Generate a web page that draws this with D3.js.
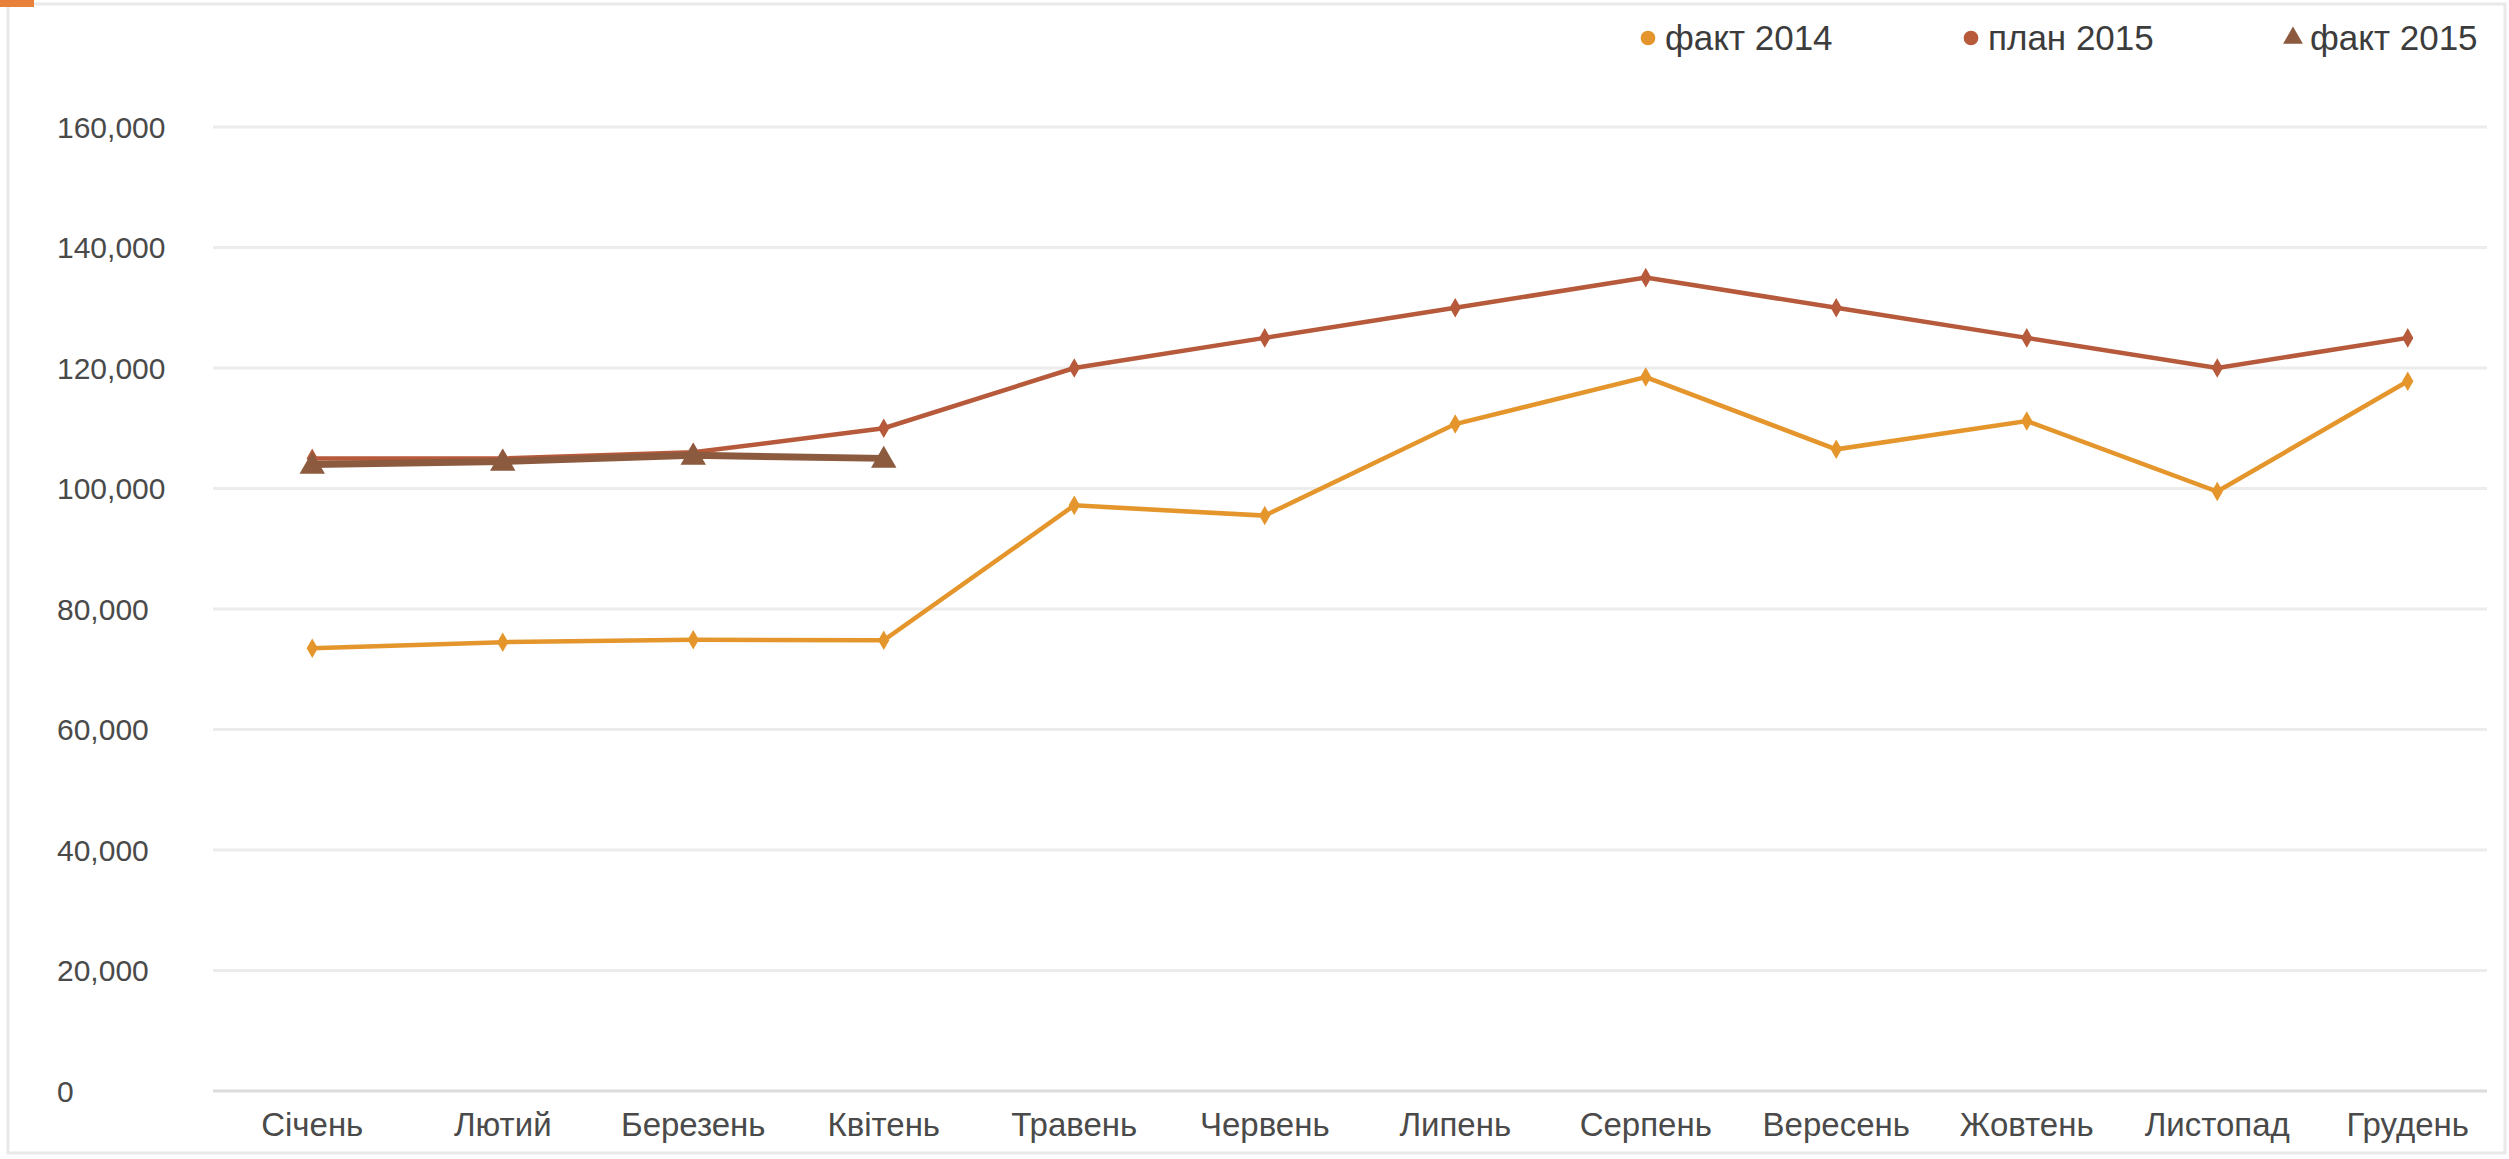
<!DOCTYPE html>
<html>
<head>
<meta charset="utf-8">
<script src="https://cdn.jsdelivr.net/npm/d3@7"></script>
<style>
  body { margin: 0; background: #fff; }
  text { font-family: "Liberation Sans", Arial, sans-serif; }
</style>
</head>
<body>
<svg id="chart" width="2509" height="1159"></svg>
<script>
var months = ["Січень", "Лютий", "Березень", "Квітень", "Травень", "Червень",
              "Липень", "Серпень", "Вересень", "Жовтень", "Листопад", "Грудень"];

var fact2014 = [73500, 74500, 74900, 74800, 97200, 95500, 110700, 118500, 106500, 111200, 99500, 117800];
var plan2015 = [105000, 105000, 106000, 110000, 120000, 125000, 130000, 135000, 130000, 125000, 120000, 125000];
var fact2015 = [104000, 104500, 105500, 105000];

var yTicks = [0, 20000, 40000, 60000, 80000, 100000, 120000, 140000, 160000];

var seriesNames = ["факт 2014", "план 2015", "факт 2015"];
var seriesColors = ["#e4962c", "#b65a3b", "#8c5a3e"];

var svg = d3.select("#chart");
var W = 2509, H = 1159;
var margin = {left: 217, right: 6, top: 127, bottom: 68};

// frame
svg.append("rect")
  .attr("x", 8).attr("y", 4)
  .attr("width", W - 12).attr("height", H - 10)
  .attr("fill", "none").attr("stroke", "#e9e9e9").attr("stroke-width", 3);

var x = d3.scaleBand()
  .domain(months)
  .range([margin.left, W - margin.right]);

var y = d3.scaleLinear()
  .domain([0, 160000])
  .range([H - margin.bottom, margin.top]);

// grid lines
svg.append("g").selectAll("line")
  .data(yTicks)
  .enter().append("line")
    .attr("x1", margin.left - 4)
    .attr("x2", W - 22)
    .attr("y1", function (d) { return y(d); })
    .attr("y2", function (d) { return y(d); })
    .attr("stroke", function (d) { return d === 0 ? "#dcdcdc" : "#ececec"; })
    .attr("stroke-width", 3);

// y labels, left aligned
var fmt = d3.format(",");
svg.append("g").selectAll("text")
  .data(yTicks)
  .enter().append("text")
    .attr("x", 57)
    .attr("y", function (d) { return y(d); })
    .attr("dy", "0.35em")
    .attr("font-size", 30)
    .attr("fill", "#4a4a4a")
    .text(function (d) { return fmt(d); });

// x axis labels
var xAxis = d3.axisBottom(x).tickSize(0).tickPadding(22);
var gx = svg.append("g")
  .attr("transform", "translate(0," + y(0) + ")")
  .call(xAxis);
gx.select(".domain").remove();
gx.selectAll("text")
  .attr("font-size", 33)
  .attr("fill", "#4a4a4a")
  .style("font-family", "'Liberation Sans', Arial, sans-serif");

var cx = function (d, i) { return x(months[i]) + x.bandwidth() / 2; };

var line = d3.line()
  .x(cx)
  .y(function (d) { return y(d); });

// факт 2014
svg.append("path")
  .datum(fact2014)
  .attr("d", line)
  .attr("fill", "none")
  .attr("stroke", seriesColors[0])
  .attr("stroke-width", 4.5);
svg.append("g").selectAll("path")
  .data(fact2014)
  .enter().append("path")
    .attr("transform", function (d, i) { return "translate(" + cx(d, i) + "," + y(d) + ")"; })
    .attr("d", d3.symbol().type(d3.symbolDiamond).size(110))
    .attr("fill", seriesColors[0]);

// план 2015
svg.append("path")
  .datum(plan2015)
  .attr("d", line)
  .attr("fill", "none")
  .attr("stroke", seriesColors[1])
  .attr("stroke-width", 4.5);
svg.append("g").selectAll("path")
  .data(plan2015)
  .enter().append("path")
    .attr("transform", function (d, i) { return "translate(" + cx(d, i) + "," + y(d) + ")"; })
    .attr("d", d3.symbol().type(d3.symbolDiamond).size(110))
    .attr("fill", seriesColors[1]);

// факт 2015
svg.append("path")
  .datum(fact2015)
  .attr("d", line)
  .attr("fill", "none")
  .attr("stroke", seriesColors[2])
  .attr("stroke-width", 7);
svg.append("g").selectAll("path")
  .data(fact2015)
  .enter().append("path")
    .attr("transform", function (d, i) { return "translate(" + cx(d, i) + "," + (y(d) + 2) + ")"; })
    .attr("d", d3.symbol().type(d3.symbolTriangle).size(280))
    .attr("fill", seriesColors[2]);

// legend
var legendX = [1648, 1971, 2293];
var legendSym = [d3.symbolCircle, d3.symbolCircle, d3.symbolTriangle];
var legend = svg.append("g").selectAll("g")
  .data(seriesNames)
  .enter().append("g")
    .attr("transform", function (d, i) { return "translate(" + legendX[i] + ",38)"; });
legend.append("path")
  .attr("d", function (d, i) { return d3.symbol().type(legendSym[i]).size(170)(); })
  .attr("fill", function (d, i) { return seriesColors[i]; });
legend.append("text")
  .attr("x", 17)
  .attr("dy", "0.35em")
  .attr("font-size", 35)
  .attr("fill", "#3c3c3c")
  .text(function (d) { return d; });

// cut-off title mark at the very top
svg.append("rect")
  .attr("x", 0).attr("y", 0).attr("width", 34).attr("height", 7)
  .attr("fill", "#e8823a");
</script>
</body>
</html>
